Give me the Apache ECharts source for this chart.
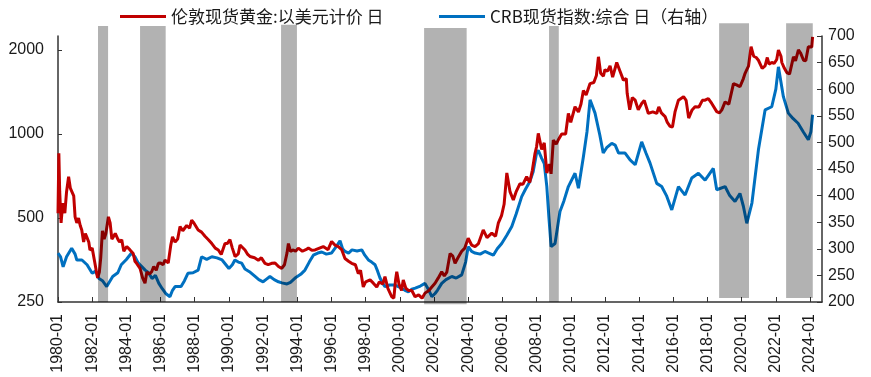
<!DOCTYPE html>
<html>
<head>
<meta charset="utf-8">
<script src="https://cdn.jsdelivr.net/npm/echarts@6/dist/echarts.min.js"></script>
<style>html,body{margin:0;padding:0;background:#fff}#c{width:871px;height:377px}</style>
</head>
<body>
<div id="c"></div>
<script>
// ---- data (decimal years) ----
const goldName = '伦敦现货黄金:以美元计价 日';
const crbName = 'CRB现货指数:综合 日（右轴）';

const goldDates = [1980.00,1980.05,1980.10,1980.18,1980.25,1980.31,1980.40,1980.50,1980.62,1980.72,1980.82,1980.92,1981.00,1981.10,1981.20,1981.30,1981.39,1981.50,1981.60,1981.68,1981.80,1981.87,1982.00,1982.16,1982.25,1982.32,1982.42,1982.50,1982.60,1982.70,1982.80,1982.95,1983.05,1983.15,1983.24,1983.35,1983.50,1983.60,1983.73,1983.85,1984.02,1984.20,1984.40,1984.50,1984.60,1984.80,1984.95,1985.09,1985.20,1985.35,1985.48,1985.60,1985.75,1985.87,1986.00,1986.15,1986.26,1986.45,1986.60,1986.70,1986.85,1987.00,1987.14,1987.30,1987.53,1987.70,1987.82,1987.95,1988.20,1988.40,1988.60,1988.80,1989.00,1989.20,1989.38,1989.55,1989.77,1989.90,1990.06,1990.20,1990.36,1990.55,1990.65,1990.75,1990.94,1991.10,1991.23,1991.33,1991.50,1991.72,1991.90,1992.11,1992.30,1992.50,1992.70,1992.90,1993.09,1993.25,1993.40,1993.48,1993.60,1993.77,1993.90,1994.06,1994.30,1994.50,1994.65,1994.85,1995.04,1995.30,1995.52,1995.80,1996.01,1996.20,1996.40,1996.60,1996.79,1997.00,1997.18,1997.40,1997.57,1997.70,1997.86,1998.00,1998.26,1998.45,1998.65,1998.80,1999.00,1999.13,1999.30,1999.53,1999.65,1999.75,1999.82,1999.95,2000.10,2000.20,2000.35,2000.50,2000.70,2000.89,2001.10,2001.30,2001.47,2001.70,2001.87,2002.06,2002.25,2002.45,2002.60,2002.75,2002.94,2003.10,2003.23,2003.40,2003.62,2003.80,2004.00,2004.20,2004.40,2004.60,2004.88,2005.10,2005.38,2005.60,2005.76,2005.95,2006.10,2006.26,2006.45,2006.64,2006.80,2007.03,2007.20,2007.42,2007.60,2007.75,2007.91,2008.00,2008.10,2008.30,2008.45,2008.60,2008.75,2008.85,2008.98,2009.15,2009.30,2009.47,2009.70,2009.86,2010.00,2010.25,2010.45,2010.60,2010.74,2010.90,2011.13,2011.35,2011.50,2011.62,2011.75,2011.91,2012.00,2012.15,2012.30,2012.45,2012.69,2012.85,2013.08,2013.25,2013.30,2013.45,2013.60,2013.77,2013.95,2014.15,2014.30,2014.54,2014.80,2015.03,2015.15,2015.30,2015.52,2015.65,2015.81,2015.95,2016.10,2016.30,2016.60,2016.75,2016.90,2017.10,2017.27,2017.50,2017.70,2017.86,2018.05,2018.25,2018.54,2018.70,2018.84,2019.03,2019.25,2019.52,2019.70,2019.90,2020.10,2020.20,2020.30,2020.40,2020.55,2020.70,2020.85,2020.98,2021.20,2021.37,2021.50,2021.60,2021.76,2021.90,2022.05,2022.15,2022.30,2022.35,2022.50,2022.64,2022.80,2023.03,2023.15,2023.32,2023.45,2023.62,2023.75,2023.90,2024.00,2024.10,2024.15];
const goldValues = [520,853,620,480,540,565,520,620,703,640,647,600,505,480,500,470,453,410,440,428,410,384,390,344,320,305,320,360,450,420,440,505,480,420,428,440,420,410,418,380,395,385,373,350,344,330,305,292,320,315,321,335,325,344,345,340,353,345,400,428,410,420,466,450,470,460,491,480,453,445,430,418,405,390,384,370,405,405,418,390,364,372,400,395,384,370,364,364,360,353,360,344,340,344,345,335,330,340,375,405,380,384,380,390,380,385,390,383,384,390,395,385,412,400,395,385,358,350,344,340,316,325,283,295,300,292,283,295,290,308,280,261,258,300,321,290,275,300,280,275,275,261,265,258,269,275,283,292,305,321,310,320,373,365,344,360,380,390,423,400,395,405,453,425,441,430,479,510,560,725,620,580,620,664,660,703,670,740,853,900,1005,880,930,725,780,720,951,920,960,1000,1000,1185,1100,1252,1200,1280,1433,1380,1516,1530,1620,1891,1650,1611,1700,1680,1755,1600,1804,1700,1560,1580,1400,1221,1350,1322,1220,1287,1320,1185,1200,1185,1250,1190,1154,1100,1065,1060,1200,1322,1360,1320,1140,1220,1252,1250,1320,1322,1340,1287,1203,1190,1221,1303,1280,1516,1500,1477,1580,1650,1701,1750,2055,1900,1880,1838,1720,1755,1880,1780,1804,1790,1850,2000,1900,1804,1720,1660,1640,1891,1830,2000,1950,1838,1830,2055,2030,2050,2230];

const crbDates = [1980.00,1980.15,1980.30,1980.50,1980.80,1981.00,1981.10,1981.40,1981.70,1982.00,1982.20,1982.40,1982.60,1982.85,1983.20,1983.50,1983.70,1984.00,1984.30,1984.50,1984.70,1985.10,1985.30,1985.50,1985.70,1985.90,1986.10,1986.30,1986.55,1986.70,1986.85,1987.20,1987.40,1987.60,1987.90,1988.20,1988.40,1988.70,1989.00,1989.30,1989.60,1990.00,1990.20,1990.35,1990.55,1990.75,1990.94,1991.20,1991.53,1991.75,1992.00,1992.20,1992.40,1992.65,1992.90,1993.10,1993.40,1993.60,1993.87,1994.20,1994.45,1994.70,1994.94,1995.20,1995.43,1995.70,1996.00,1996.30,1996.50,1996.65,1996.80,1997.00,1997.20,1997.50,1997.77,1997.95,1998.16,1998.35,1998.55,1998.70,1998.84,1999.00,1999.13,1999.40,1999.62,1999.85,2000.10,2000.30,2000.50,2000.70,2000.90,2001.20,2001.47,2001.70,2001.87,2002.06,2002.20,2002.45,2002.70,2003.04,2003.30,2003.62,2003.85,2004.00,2004.20,2004.40,2004.70,2004.98,2005.20,2005.47,2005.70,2005.96,2006.25,2006.55,2006.80,2007.13,2007.35,2007.60,2007.80,2008.00,2008.10,2008.30,2008.45,2008.60,2008.72,2008.85,2009.08,2009.37,2009.60,2009.86,2010.25,2010.45,2010.74,2010.95,2011.13,2011.42,2011.70,2011.90,2012.10,2012.40,2012.60,2012.80,2013.18,2013.47,2013.77,2014.15,2014.40,2014.64,2015.03,2015.32,2015.60,2015.91,2016.30,2016.69,2017.08,2017.47,2017.86,2018.34,2018.54,2019.03,2019.30,2019.61,2019.90,2020.10,2020.30,2020.60,2020.98,2021.37,2021.76,2022.00,2022.15,2022.44,2022.73,2023.00,2023.30,2023.60,2023.90,2024.05,2024.15];
const crbValues = [292,285,266,285,301,290,279,279,270,254,258,244,240,229,248,255,270,280,292,285,273,260,255,244,250,235,225,216,210,222,229,229,240,254,255,260,285,280,285,283,279,263,270,279,275,273,262,257,248,242,238,243,248,242,238,236,234,237,245,252,260,275,288,292,294,290,292,305,315,300,295,292,298,296,298,288,279,275,270,258,245,235,229,232,232,230,226,222,219,224,226,230,235,222,210,216,222,235,242,248,245,251,275,304,295,292,290,295,292,288,300,310,325,342,365,398,412,426,445,480,485,470,460,417,360,304,310,370,390,417,442,414,473,520,580,555,514,480,490,498,495,480,480,467,458,501,480,461,423,417,400,373,417,401,433,442,429,451,411,417,400,389,404,380,348,386,486,561,567,600,642,586,555,545,536,520,505,520,552];

// grey shaded periods: start, end (years) and vertical extent (right-axis units)
const bandStart  = [1982.34,1984.80,1993.05,2001.42,2008.73,2018.68,2022.60];
const bandEnd    = [1982.93,1986.30,1993.98,2003.91,2009.30,2020.43,2024.16];
const bandTop    = [719,719,721,715,719,724,724];
const bandBottom = [200,200,200,196,200,207.5,207.5];

const xTickYears = [];
for (let y = 1980; y <= 2024; y += 2) xTickYears.push(y);
const goldTicks = [250, 500, 1000, 2000];
const goldBase = 250;
const goldTop = 2245;

// ---- build ----
const lg = v => Math.log2(v / goldBase);
const goldData = goldDates.map((d, i) => [d, lg(goldValues[i])]);
const crbData = crbDates.map((d, i) => [d, crbValues[i]]);
const bandData = bandStart.map((s, i) => [s, bandEnd[i], bandTop[i], bandBottom[i]]);

const axisColor = '#333';
const labelFont = {fontFamily: 'Liberation Sans, Arial, sans-serif', fontSize: 16, color: '#1a1a1a'};
const legendText = {fontFamily: 'Noto Sans CJK SC', fontSize: 17, color: '#1a1a1a'};

const chart = echarts.init(document.getElementById('c'), null, {renderer: 'canvas'});
chart.setOption({
  animation: false,
  backgroundColor: '#fff',
  grid: {left: 58, right: 49, top: 36, bottom: 75},
  legend: [
    {data: [goldName], left: 115, top: 3, icon: 'rect', itemWidth: 46, itemHeight: 3, textStyle: legendText},
    {data: [crbName], left: 434, top: 3, icon: 'rect', itemWidth: 46, itemHeight: 3, textStyle: legendText}
  ],
  xAxis: {
    type: 'value', min: 1980, max: 2024.7,
    splitLine: {show: false},
    axisLine: {lineStyle: {color: axisColor, width: 1.5}},
    axisTick: {inside: true, length: 5, lineStyle: {color: axisColor}, customValues: xTickYears},
    axisLabel: Object.assign({rotate: 90, margin: 12, customValues: xTickYears, formatter: v => v + '-01'}, labelFont)
  },
  yAxis: [
    {
      type: 'value', min: 0, max: lg(goldTop),
      splitLine: {show: false},
      axisLine: {show: true, lineStyle: {color: axisColor, width: 1.5}},
      axisTick: {show: true, inside: true, length: 4, lineStyle: {color: axisColor}, customValues: goldTicks.map(lg)},
      axisLabel: Object.assign({margin: 14, customValues: goldTicks.map(lg), formatter: v => String(Math.round(goldBase * Math.pow(2, v)))}, labelFont)
    },
    {
      type: 'value', min: 200, max: 700, interval: 50, position: 'right',
      splitLine: {show: false},
      axisLine: {show: true, lineStyle: {color: axisColor, width: 1.5}},
      axisTick: {show: true, inside: true, length: 5, lineStyle: {color: axisColor}},
      axisLabel: Object.assign({margin: 6}, labelFont)
    }
  ],
  series: [
    {
      name: goldName, type: 'line', yAxisIndex: 0, data: goldData,
      showSymbol: false, symbol: 'none', z: 3,
      lineStyle: {color: '#C00000', width: 3}, itemStyle: {color: '#C00000'}
    },
    {
      name: crbName, type: 'line', yAxisIndex: 1, data: crbData,
      showSymbol: false, symbol: 'none', z: 2,
      lineStyle: {color: '#0070C0', width: 3}, itemStyle: {color: '#0070C0'}
    },
    {
      type: 'custom', yAxisIndex: 1, z: 10, silent: true, clip: false,
      encode: {x: [0, 1], y: [2, 3]},
      data: bandData,
      renderItem: function (params, api) {
        const p1 = api.coord([api.value(0), api.value(2)]);
        const p2 = api.coord([api.value(1), api.value(3)]);
        return {
          type: 'rect',
          shape: {x: p1[0], y: p1[1], width: p2[0] - p1[0], height: p2[1] - p1[1]},
          style: {fill: 'rgba(0,0,0,0.3)'}
        };
      }
    }
  ]
});
</script>
</body>
</html>
